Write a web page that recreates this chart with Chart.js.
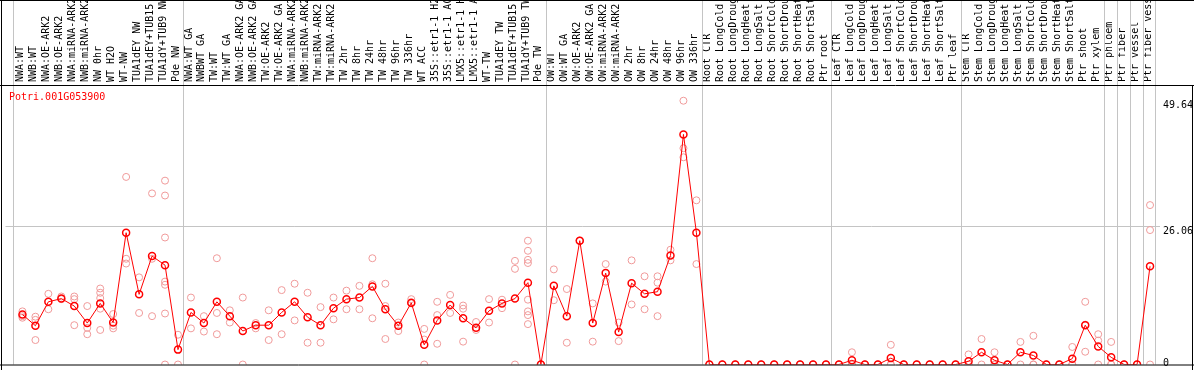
<!DOCTYPE html>
<html>
<head>
<meta charset="utf-8">
<script src="https://cdn.jsdelivr.net/npm/chart.js@4/dist/chart.umd.min.js"></script>
<style>
  html, body { margin: 0; padding: 0; background: #fff; }
</style>
</head>
<body>
<canvas id="myChart" width="1194" height="370"></canvas>
<script>
const geneName = 'Potri.001G053900';

const sampleLabels = [
  'NWA:WT', 'NWB:WT', 'NWA:OE-ARK2', 'NWB:OE-ARK2', 'NWA:miRNA-ARK2', 'NWB:miRNA-ARK2',
  'NW 0hr', 'WT H2O', 'WT-NW', 'TUA1dEY NW', 'TUA1dEY+TUB15 NW', 'TUA1dY+TUB9 NW', 'Pde NW',
  'NWA:WT GA', 'NWBWT GA', 'TW:WT', 'TW:WT GA', 'NWA:OE-ARK2 GA', 'NWB:OE-ARK2 GA',
  'TW:OE-ARK2', 'TW:OE-ARK2 GA', 'NWA:miRNA-ARK2 GA', 'NWB:miRNA-ARK2 GA', 'TW:miRNA-ARK2',
  'TW:miRNA-ARK2 GA', 'TW 2hr', 'TW 8hr', 'TW 24hr', 'TW 48hr', 'TW 96hr', 'TW 336hr',
  'WT ACC', '35S::etr1-1 H2O', '35S::etr1-1 ACC', 'LMX5::etr1-1 H2O', 'LMX5::etr1-1 ACC',
  'WT-TW', 'TUA1dEY TW', 'TUA1dEY+TUB15 TW', 'TUA1dY+TUB9 TW', 'Pde TW',
  'OW:WT', 'OW:WT GA', 'OW:OE-ARK2', 'OW:OE-ARK2 GA', 'OW:miRNA-ARK2', 'OW:miRNA-ARK2 GA',
  'OW 2hr', 'OW 8hr', 'OW 24hr', 'OW 48hr', 'OW 96hr', 'OW 336hr',
  'Root CTR', 'Root LongCold', 'Root LongDrought', 'Root LongHeat', 'Root LongSalt',
  'Root ShortCold', 'Root ShortDrought', 'Root ShortHeat', 'Root ShortSalt', 'Ptr root',
  'Leaf CTR', 'Leaf LongCold', 'Leaf LongDrought', 'Leaf LongHeat', 'Leaf LongSalt',
  'Leaf ShortCold', 'Leaf ShortDrought', 'Leaf ShortHeat', 'Leaf ShortSalt', 'Ptr leaf',
  'Stem CTR', 'Stem LongCold', 'Stem LongDrought', 'Stem LongHeat', 'Stem LongSalt',
  'Stem ShortCold', 'Stem ShortDrought', 'Stem ShortHeat', 'Stem ShortSalt', 'Ptr shoot',
  'Ptr xylem', 'Ptr phloem', 'Ptr fiber', 'Ptr vessel', 'Ptr fiber vessel'
];

// mean expression per sample (red line)
const meanValues = [
  9.4, 7.3, 11.8, 12.4, 11.0, 7.8, 11.5, 7.9, 24.8, 13.2, 20.4, 18.7, 2.8,
  9.8, 7.8, 11.8, 9.1, 6.3, 7.4, 7.4, 9.8, 11.8, 8.9, 7.4, 10.6, 12.3, 12.6, 14.7,
  10.4, 7.3, 11.6, 3.7, 8.3, 11.2, 8.7, 6.9, 10.1, 11.5, 12.4, 15.4, 0,
  14.8, 9.1, 23.3, 7.8, 17.2, 6.1, 15.3, 13.3, 13.7, 20.5, 43.3, 24.8,
  0, 0, 0, 0, 0, 0, 0, 0, 0, 0,
  0, 0.8, 0, 0, 1.2, 0, 0, 0, 0, 0,
  0.6, 2.3, 0.8, 0, 2.3, 1.7, 0, 0, 1.1, 7.4,
  3.4, 1.35, 0, 0, 18.5
];

// individual replicates (pink circles)
const replicateValues = [
  [10.0, 9.1, 8.8], [9.0, 8.4, 4.6], [13.3, 10.4], [12.8, 12.3], [12.8, 12.3, 7.4],
  [11.0, 6.9, 5.7], [14.3, 13.5, 12.5, 10.5, 6.5], [9.5, 7.3, 6.8], [35.3, 19.9, 19.0],
  [16.4, 9.7], [32.2, 19.9, 9.1], [34.6, 31.8, 23.9, 15.6, 15.0, 9.6, 0], [5.6, 0],
  [12.6, 6.8], [9.1, 6.2], [20.0, 9.7, 5.7], [10.2, 7.9], [12.6, 0], [7.8, 6.8],
  [10.2, 4.6], [14.0, 5.7], [15.2, 8.3], [13.5, 4.1], [10.8, 4.1], [12.6, 8.5],
  [13.9, 10.4], [14.8, 10.4], [20.0, 15.1, 8.7], [15.2, 11.0, 4.8], [7.9, 6.3],
  [12.3, 11.5], [6.7, 4.7, 0], [11.8, 9.3, 3.9], [13.1, 9.7], [11.1, 10.5, 4.3],
  [8.0, 6.5], [12.3, 7.9], [12.2, 10.6], [19.5, 18.0, 0],
  [23.3, 21.4, 19.7, 19.1, 12.2, 10.0, 9.3, 7.6], [0, 0],
  [17.9, 12.1], [14.2, 4.1], [23.3, 23.3], [11.5, 4.3], [18.9, 15.6], [7.9, 4.4],
  [19.6, 11.3], [16.6, 10.4], [16.6, 15.4, 9.1], [21.6, 19.6], [49.64, 40.7, 39.0],
  [30.9, 18.9],
  [0, 0], [0, 0], [0, 0], [0, 0], [0, 0], [0, 0], [0, 0], [0, 0], [0, 0], [0, 0],
  [0, 0], [2.3, 0, 0], [0, 0], [0, 0], [3.7, 0, 0], [0, 0], [0, 0], [0, 0], [0, 0], [0, 0],
  [1.9, 0, 0], [4.8, 0], [2.3, 0, 0], [0, 0], [4.25, 0], [5.4, 0, 0], [0, 0], [0, 0],
  [3.3, 0, 0], [11.8, 7.5, 2.4],
  [5.7, 4.5, 0], [4.25, 0, 0], [0, 0], [0, 0], [30.0, 25.3, 0]
];

// index of the last sample in each group (grey separators)
const groupEnds = [12, 40, 52, 62, 72, 83, 84, 85, 86, 87];

const yTickValues = [0, 26.06, 49.64];
const yGridValue = 26.06;
const yMax = 52.6;

const FONT = { family: 'DejaVu Sans Mono', size: 10 };

const framePlugin = {
  id: 'frame',
  beforeDatasetsDraw(chart) {
    const { ctx, chartArea, scales } = chart;
    ctx.save();
    ctx.strokeStyle = '#c4c4c4';
    ctx.lineWidth = 1;
    const seps = [-0.7].concat(groupEnds.map(e => e + 0.42));
    seps.forEach(v => {
      const px = Math.round(scales.x.getPixelForValue(v)) + 0.5;
      ctx.beginPath();
      ctx.moveTo(px, 0);
      ctx.lineTo(px, chartArea.bottom);
      ctx.stroke();
    });
    ctx.restore();
  },
  afterDatasetsDraw(chart) {
    const { ctx, chartArea, width, height } = chart;
    ctx.save();
    ctx.strokeStyle = '#000';
    ctx.lineWidth = 1;
    ctx.beginPath();
    ctx.moveTo(0, 0.5); ctx.lineTo(width, 0.5);
    ctx.moveTo(0, chartArea.top + 0.5); ctx.lineTo(width, chartArea.top + 0.5);
    ctx.moveTo(0, chartArea.bottom + 0.5); ctx.lineTo(width, chartArea.bottom + 0.5);
    ctx.moveTo(1.5, 0); ctx.lineTo(1.5, height);
    ctx.moveTo(width - 1.5, chartArea.top); ctx.lineTo(width - 1.5, height);
    ctx.stroke();

    ctx.fillStyle = '#ff0000';
    ctx.font = '10px "DejaVu Sans Mono"';
    ctx.textBaseline = 'middle';
    ctx.fillText(geneName, 9, chartArea.top + 12);
    ctx.restore();
  }
};

const ctx = document.getElementById('myChart').getContext('2d');
const myChart = new Chart(ctx, {
  type: 'scatter',
  data: {
    datasets: [{
      type: 'line',
      data: meanValues.map((v, i) => ({ x: i, y: v })),
      borderColor: '#ff0000',
      borderWidth: 1,
      pointRadius: 3.5,
      pointBorderWidth: 1.5,
      pointBorderColor: '#ff0000',
      pointBackgroundColor: 'rgba(0,0,0,0)',
      tension: 0,
      order: 0
    }, {
      type: 'scatter',
      data: replicateValues.flatMap((reps, i) => reps.map(v => ({ x: i, y: v }))),
      pointRadius: 3.5,
      pointBorderWidth: 1,
      pointBorderColor: '#f09a9a',
      pointBackgroundColor: 'rgba(0,0,0,0)',
      order: 1
    }]
  },
  options: {
    responsive: false,
    animation: false,
    devicePixelRatio: 1,
    layout: { padding: { left: 2, right: 0, top: 0, bottom: 1 } },
    plugins: {
      legend: { display: false },
      tooltip: { enabled: false }
    },
    scales: {
      x: {
        type: 'linear',
        position: 'top',
        min: -1.3077,
        max: 87.769,
        grid: { display: false, drawTicks: false },
        border: { display: false },
        afterBuildTicks: s => { s.ticks = sampleLabels.map((_, i) => ({ value: i })); },
        ticks: {
          autoSkip: false,
          minRotation: 90,
          maxRotation: 90,
          padding: 3,
          labelOffset: 10,
          color: '#000',
          font: FONT,
          callback: v => sampleLabels[v] ?? ''
        },
        afterFit: s => { s.height = 85; s.paddingLeft = 0; s.paddingRight = 0; }
      },
      y: {
        type: 'linear',
        position: 'right',
        min: 0,
        max: yMax,
        grid: {
          drawTicks: false,
          color: c => (c.tick && c.tick.value === yGridValue) ? '#c4c4c4' : 'rgba(0,0,0,0)'
        },
        border: { display: false },
        afterBuildTicks: s => { s.ticks = yTickValues.map(v => ({ value: v })); },
        ticks: {
          padding: 3,
          labelOffset: 5,
          color: '#000',
          font: FONT,
          // the bottom label sits just above the zero line
          callback: v => v === 0 ? ['0', ''] : String(v)
        },
        afterFit: s => { s.width = 34; s.paddingTop = 0; s.paddingBottom = 0; }
      }
    }
  },
  plugins: [framePlugin]
});
</script>
</body>
</html>
